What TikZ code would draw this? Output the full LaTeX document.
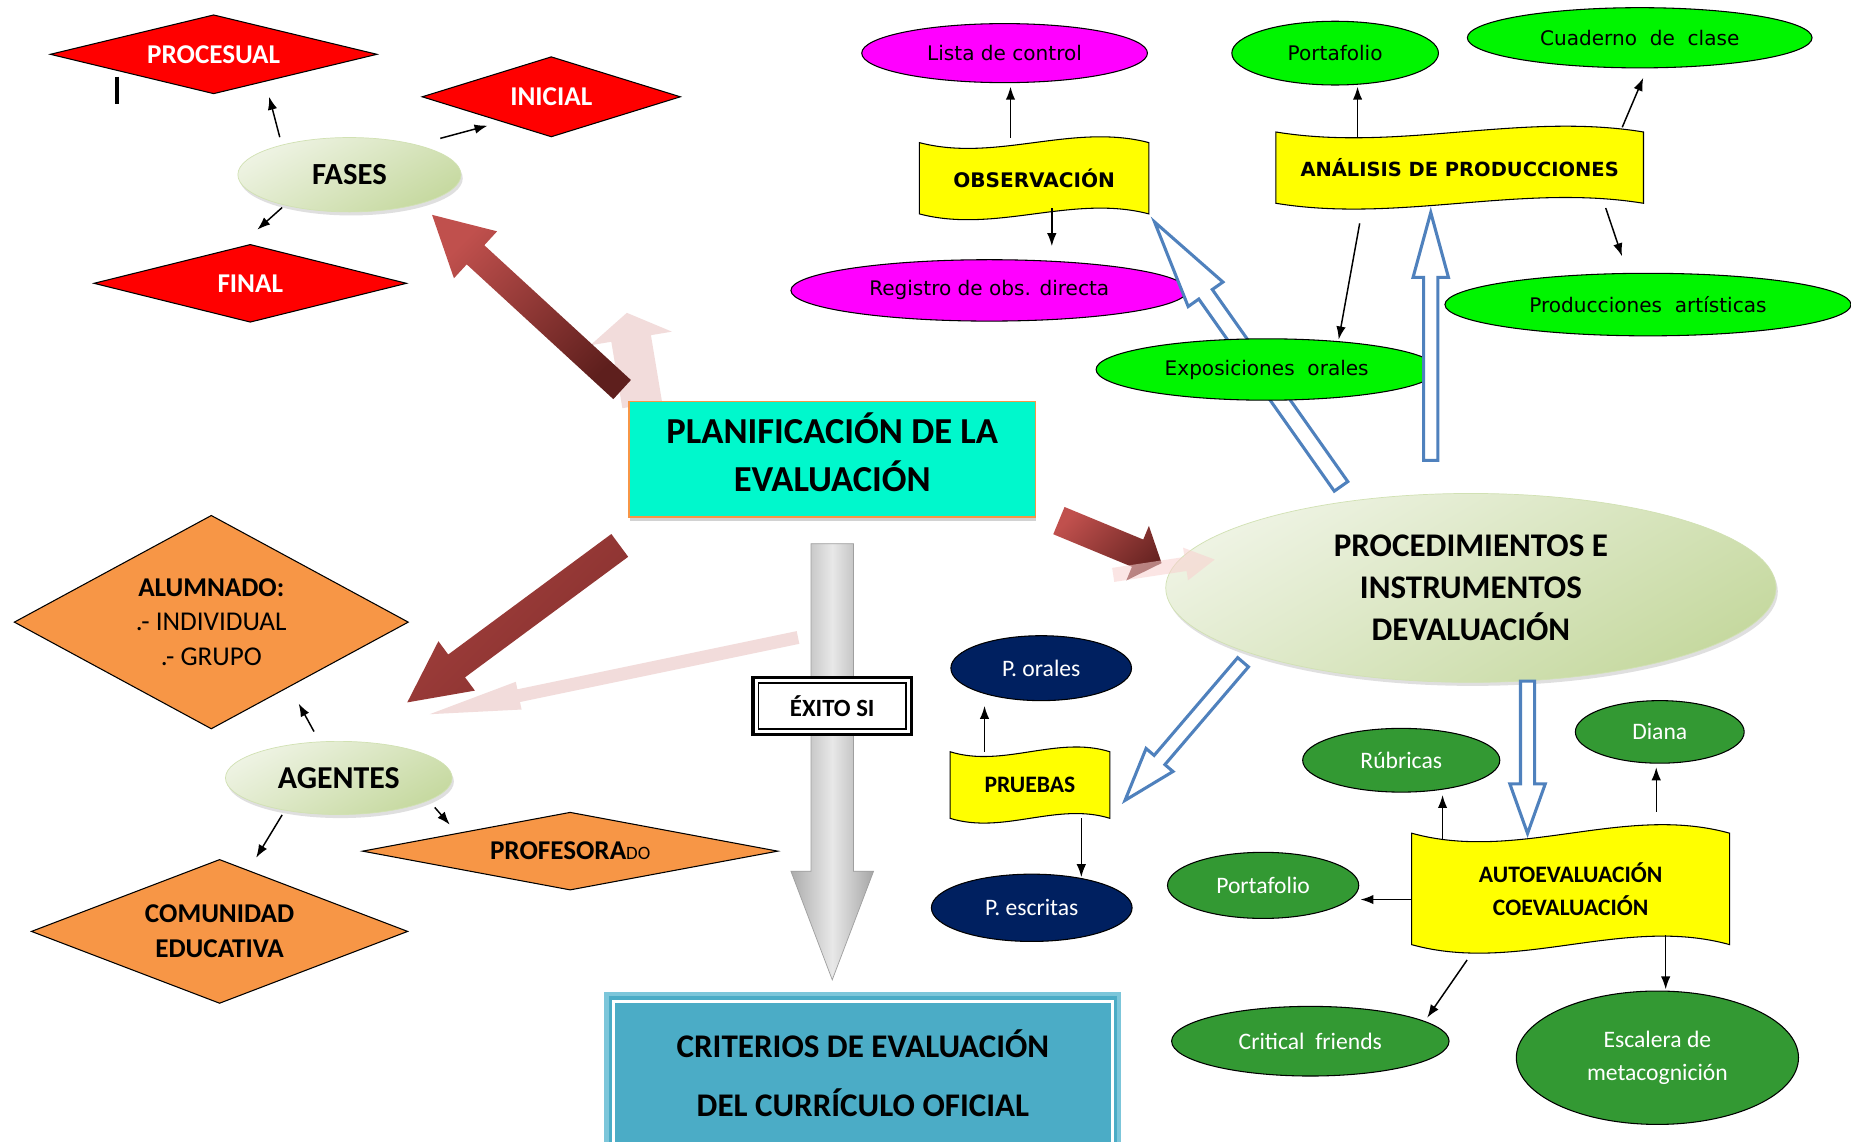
\documentclass[tikz,border=0pt]{standalone}
\usepackage{fontspec}
\setmainfont{Carlito}
\newfontfamily\tahfont{DejaVu Sans}
\usetikzlibrary{shapes.geometric,arrows.meta,calc,shadows,backgrounds}
\definecolor{cRed}{HTML}{FF0000}
\definecolor{cOrange}{HTML}{F79646}
\definecolor{cAqua}{HTML}{00F8CC}
\definecolor{cMag}{HTML}{FF00FF}
\definecolor{cLime}{HTML}{00F500}
\definecolor{cDGreen}{HTML}{339933}
\definecolor{cNavy}{HTML}{002060}
\definecolor{cYel}{HTML}{FFFF00}
\definecolor{cLgA}{HTML}{EEF3E3}
\definecolor{cLgB}{HTML}{C6D9A0}
\definecolor{cBlue}{HTML}{4F81BD}
\definecolor{cPale}{HTML}{F2DCDB}
\definecolor{cCrit}{HTML}{4BACC6}
\definecolor{cCritB}{HTML}{7CC6DA}
\definecolor{cRedA}{HTML}{C0504D}
\definecolor{cRedB}{HTML}{5E1F1D}
\definecolor{cRedM}{HTML}{A3403D}
\definecolor{cRedD}{HTML}{86302E}
\newcommand\myfs[2]{\fontsize{#1pt}{#2pt}\selectfont}
% fat arrow: [style]{tail}{tip}{half shaft}{half head}{head length}
\newcommand\fatarrow[6][]{%
  \coordinate (fa-h) at ($(#3)!#6pt!(#2)$);
  \path[#1] ($(#2)!#4pt!90:(#3)$) -- ($(fa-h)!#4pt!90:(#3)$) -- ($(fa-h)!#5pt!90:(#3)$) -- (#3)
    -- ($(fa-h)!#5pt!-90:(#3)$) -- ($(fa-h)!#4pt!-90:(#3)$) -- ($(#2)!#4pt!-90:(#3)$) -- cycle;}
% wave banner behind a named node
\newcommand\wavepath[3][]{%
  \path[#1] (#2.north west) .. controls ($(#2.north west)!0.333!(#2.north east)+(0,#3)$) and ($(#2.north west)!0.667!(#2.north east)+(0,-#3)$) .. (#2.north east)
    -- (#2.south east) .. controls ($(#2.south west)!0.667!(#2.south east)+(0,-#3)$) and ($(#2.south west)!0.333!(#2.south east)+(0,#3)$) .. (#2.south west) -- cycle;}
\tikzset{
  dia/.style={diamond, draw=black, line width=0.9pt, inner sep=0pt, align=center},
  ovalbox/.style={ellipse, draw=black, line width=0.9pt, inner sep=0pt, align=center},
  softoval/.style={ellipse, inner sep=0pt, align=center, draw=cLgB!80!white, line width=0.6pt,
     top color=cLgA, bottom color=cLgB, shading angle=30,
     drop shadow={shadow xshift=1.5pt, shadow yshift=-3pt, opacity=0.25}},
  wavebox/.style={rectangle, inner sep=0pt, align=center},
  wavefill/.style={fill=cYel, draw=black, line width=0.9pt},
  conn/.style={-{Latex[length=11pt,width=8pt]}, line width=1.25pt},
  hollow/.style={fill=white, draw=cBlue, line width=2.6pt},
  smalltxt/.style={font=\tahfont\myfs{17}{20}},
  lowtxt/.style={font=\myfs{20}{28}, text=white},
  redtxt/.style={text=white, font=\bfseries\myfs{23}{28}},
}
\begin{document}
\begin{tikzpicture}[x=1pt,y=-1pt]
\useasboundingbox (0,0) rectangle (1568,967);
\clip (0,0) rectangle (1568,967);
\begin{pgfonlayer}{background}
  \fill[white] (0,0) rectangle (1568,967);
\end{pgfonlayer}

% ---------- pale arrows (behind) ----------
\coordinate (p1a) at (544,343); \coordinate (p1b) at (531,265);
\coordinate (p2a) at (676,540); \coordinate (p2b) at (364,605);
\begin{pgfonlayer}{background}
  \fatarrow[fill=cPale]{p1a}{p1b}{17}{35}{22}
  \fatarrow[fill=cPale]{p2a}{p2b}{5.5}{12}{77}
\end{pgfonlayer}

% ---------- central boxes ----------
\node[draw=cOrange, line width=1.2pt, fill=cAqua, minimum width=344pt, minimum height=98pt,
  align=center, font=\bfseries\myfs{31}{41}, text depth=12pt,
  drop shadow={shadow xshift=1pt, shadow yshift=-3pt, opacity=0.35}] (plan) at (705,389)
  {PLANIFICACIÓN DE LA\\EVALUACIÓN};
\node[fill=cCrit, draw=cCritB, line width=4pt, minimum width=434pt, minimum height=134pt,
  align=center, font=\bfseries\myfs{28}{50}] (crit) at (731,909)
  {CRITERIOS DE EVALUACIÓN\\DEL CURRÍCULO OFICIAL};
\draw[white, line width=2.5pt] ([shift={(8,8)}]crit.north west) rectangle ([shift={(-8,-8)}]crit.south east);

% grey arrow
\coordinate (gA) at ([yshift=-22pt]plan.south);
\coordinate (gB) at ([shift={(-26,-10)}]crit.north);
\fatarrow[left color=gray!65, right color=gray!70, middle color=gray!18, draw=gray!75, line width=0.6pt]{gA}{gB}{18}{35}{92}

\node[draw=black, line width=3pt, fill=white, minimum width=134pt, minimum height=48pt,
  font=\bfseries\myfs{21}{25}] (exito) at (705,598) {ÉXITO SI};
\draw[line width=1.3pt] ([shift={(6,6)}]exito.north west) rectangle ([shift={(-6,-6)}]exito.south east);

% ---------- red arrows ----------
\coordinate (r1a) at (527,330); \coordinate (r1b) at (366,182);
\coordinate (r2a) at (525,462); \coordinate (r2b) at (345,595);
\coordinate (r3a) at (897,441); \coordinate (r3b) at (984,477);
\fatarrow[top color=cRedA, bottom color=cRedB, shading angle=45]{r1a}{r1b}{11}{27}{50}
\fatarrow[top color=cRedM, bottom color=cRedD, shading angle=45]{r2a}{r2b}{12}{26}{52}
\fatarrow[top color=cRedA, bottom color=cRedB!90!cRedA, shading angle=45]{r3a}{r3b}{12.5}{25}{22}

% ---------- FASES ----------
\node[dia, fill=cRed, redtxt, minimum width=277pt, minimum height=67pt, shape aspect=4.1] (procesual) at (181,46) {PROCESUAL};
\node[dia, fill=cRed, redtxt, minimum width=219pt, minimum height=68pt, shape aspect=3.2] (inicial) at (467,82) {INICIAL};
\node[dia, fill=cRed, redtxt, minimum width=265pt, minimum height=66pt, shape aspect=4] (final) at (212,240) {FINAL};
\node[softoval, minimum width=189pt, minimum height=63pt, font=\bfseries\myfs{26}{30}] (fases) at (296,148) {FASES};
\draw[line width=3pt] (99,65) -- (99,88);

% ---------- AGENTES ----------
\node[dia, fill=cOrange, font=\myfs{23}{29.5}, minimum width=334pt, minimum height=181pt, shape aspect=1.85] (alumnado) at (179,527)
  {{\bfseries ALUMNADO:}\\.- INDIVIDUAL\\.- GRUPO};
\node[dia, fill=cOrange, font=\bfseries\myfs{23}{28}, minimum width=352pt, minimum height=66pt, shape aspect=5.3] (profesorado) at (483,721)
  {PROFESORA{\mdseries\myfs{16}{20}DO}};
\node[dia, fill=cOrange, font=\bfseries\myfs{23}{30}, minimum width=319pt, minimum height=122pt, shape aspect=2.6] (comunidad) at (186,789)
  {COMUNIDAD\\EDUCATIVA};
\node[softoval, minimum width=192pt, minimum height=62pt, font=\bfseries\myfs{27}{30}] (agentes) at (287,659) {AGENTES};

% ---------- OBSERVACION ----------
\node[ovalbox, fill=cMag, minimum width=242pt, minimum height=50pt, smalltxt] (lista) at (851,45) {Lista de control};
\node[ovalbox, fill=cMag, minimum width=336pt, minimum height=52pt, smalltxt] (registro) at (838,246) {Registro de obs. directa};
\node[wavebox, minimum width=194pt, minimum height=60pt, font=\tahfont\bfseries\myfs{17}{20}] (obs) at (876,151) {OBSERVACIÓN};
\begin{pgfonlayer}{background}\wavepath[wavefill]{obs}{17}\end{pgfonlayer}

% ---------- ANALISIS ----------
\node[ovalbox, fill=cLime, minimum width=175pt, minimum height=54pt, smalltxt] (port1) at (1131,45) {Portafolio};
\node[ovalbox, fill=cLime, minimum width=292pt, minimum height=51pt, smalltxt] (cuad) at (1389,32) {Cuaderno\ \ de\ \ clase};
\node[wavebox, minimum width=311pt, minimum height=60pt, font=\tahfont\bfseries\myfs{16.5}{20}] (ana) at (1236.5,142) {ANÁLISIS DE PRODUCCIONES};
\begin{pgfonlayer}{background}\wavepath[wavefill]{ana}{17}\end{pgfonlayer}
\node[ovalbox, fill=cLime, minimum width=344pt, minimum height=53pt, smalltxt] (prod) at (1396,258) {Producciones\ \ artísticas};

% hollow arrow to OBSERVACION
\coordinate (h1a) at (1136,412); \coordinate (h1b) at (978,188);
\fatarrow[hollow]{h1a}{h1b}{7}{18}{75}
\node[ovalbox, fill=cLime, minimum width=289pt, minimum height=52pt, smalltxt] (expo) at (1073,313) {Exposiciones\ \ orales};
\coordinate (h2a) at (1212,390); \coordinate (h2b) at (1212,180);
\fatarrow[hollow]{h2a}{h2b}{6}{15}{55}

% ---------- PROCEDIMIENTOS ----------
\node[softoval, minimum width=517pt, minimum height=160pt, font=\bfseries\myfs{28}{35.5}] (proc) at (1246,498)
  {PROCEDIMIENTOS E\\INSTRUMENTOS\\DEVALUACIÓN};
\coordinate (p3a) at (943,487); \coordinate (p3b) at (1029,474);
\fatarrow[fill=cPale!80!red!60!white, opacity=0.55]{p3a}{p3b}{6}{14}{25}

\coordinate (h3a) at (1053,561); \coordinate (h3b) at (953,678);
\fatarrow[hollow]{h3a}{h3b}{6}{15}{45}
\coordinate (h4a) at (1294,577); \coordinate (h4b) at (1294,706);
\fatarrow[hollow]{h4a}{h4b}{6}{15}{42}

% ---------- PRUEBAS ----------
\node[wavebox, minimum width=135pt, minimum height=56pt, font=\bfseries\myfs{20}{24}] (pru) at (872.5,665) {PRUEBAS};
\begin{pgfonlayer}{background}\wavepath[wavefill]{pru}{14}\end{pgfonlayer}
\node[ovalbox, fill=cNavy, minimum width=153pt, minimum height=55pt, lowtxt] (porales) at (882,566) {P. orales};
\node[ovalbox, fill=cNavy, minimum width=170pt, minimum height=57pt, lowtxt] (pesc) at (874,769) {P. escritas};

% ---------- AUTOEVALUACION ----------
\node[wavebox, minimum width=269pt, minimum height=94pt, font=\bfseries\myfs{20}{28}] (auto) at (1330.5,753) {AUTOEVALUACIÓN\\COEVALUACIÓN};
\begin{pgfonlayer}{background}\wavepath[wavefill]{auto}{25}\end{pgfonlayer}
\node[ovalbox, fill=cDGreen, minimum width=167pt, minimum height=54pt, lowtxt] (rub) at (1187,644) {Rúbricas};
\node[ovalbox, fill=cDGreen, minimum width=143pt, minimum height=53pt, lowtxt] (diana) at (1406,620) {Diana};
\node[ovalbox, fill=cDGreen, minimum width=162pt, minimum height=56pt, lowtxt] (port2) at (1070,750) {Portafolio};
\node[ovalbox, fill=cDGreen, minimum width=235pt, minimum height=59pt, lowtxt] (critf) at (1110,882) {Critical\ \ friends};
\node[ovalbox, fill=cDGreen, minimum width=239pt, minimum height=113pt, lowtxt] (esc) at (1404,896) {Escalera de\\metacognición};

% ---------- black connectors ----------
\draw[conn] ([xshift=-59pt]fases.north) -- ([shift={(47,2)}]procesual.south);
\draw[conn] ([shift={(77,1)}]fases.north) -- ([shift={(-54,-10)}]inicial.south);
\draw[conn] ([shift={(-57,-4)}]fases.south) -- ([shift={(6,-12)}]final.north);
\draw[conn] ([shift={(-21,-8)}]agentes.north) -- ([shift={(74,-22)}]alumnado.south);
\draw[conn] ([shift={(-48,0)}]agentes.south) -- ([shift={(31,-1)}]comunidad.north);
\draw[conn] ([shift={(-15,25)}]agentes.east) -- ([shift={(-102,11)}]profesorado.north);
\draw[conn] ($(obs.north -| 856,0)+(0,-4)$) -- ($(lista.south -| 856,0)+(0,3)$);
\draw[conn] ($(obs.south -| 891,0)+(0,-5)$) -- ($(registro.north -| 891,0)+(0,-11)$);
\draw[conn] ($(ana.north -| 1150,0)+(0,5)$) -- ($(port1.south -| 1150,0)+(0,1)$);
\draw[conn] ([shift={(-18,-4)}]ana.north east) -- ([shift={(3,8)}]cuad.south);
\draw[conn] ([shift={(-32,4)}]ana.south east) -- ([shift={(-22,-14)}]prod.north);
\draw[conn] ([shift={(71,17)}]ana.south west) -- ([shift={(61,1)}]expo.north);
\draw[conn] (pru.north -| 834,0) -- ($(porales.south -| 834,0)+(0,4)$);
\draw[conn] (pru.south -| 916,0) -- ($(pesc.north -| 916,0)+(0,3)$);
\draw[conn] ($(auto.north -| 1222,0)+(0,6)$) -- ($(rub.south -| 1222,0)+(0,2)$);
\draw[conn] ($(auto.north -| 1403,0)+(0,-18)$) -- ($(diana.south -| 1403,0)+(0,3)$);
\draw[conn] ($(auto.west)+(0,9)$) -- ($(port2.east)+(1,12)$);
\draw[conn] ([shift={(47,13)}]auto.south west) -- ([shift={(99,10)}]critf.north);
\draw[conn] ($(auto.south -| 1411,0)+(0,-8)$) -- ($(esc.north -| 1411,0)+(0,-1)$);
\end{tikzpicture}
\end{document}
